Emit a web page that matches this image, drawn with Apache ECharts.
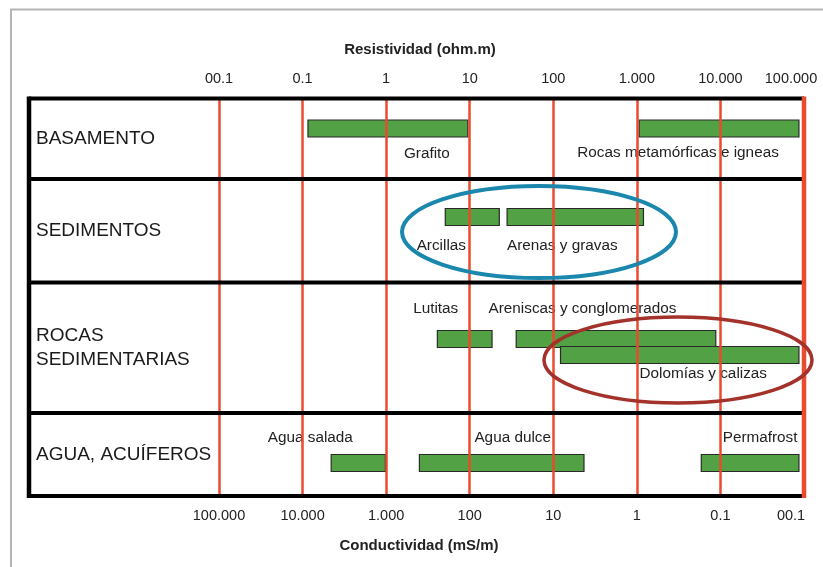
<!DOCTYPE html>
<html>
<head>
<meta charset="utf-8">
<script src="https://cdn.jsdelivr.net/npm/echarts@6/dist/echarts.min.js"></script>
<style>
  html, body { margin: 0; padding: 0; background: #ffffff; }
  #chart { width: 823px; height: 567px; }
</style>
</head>
<body>
<div id="chart"></div>
<script>
// ---- Data -------------------------------------------------------------
const rowNames = ['BASAMENTO', 'SEDIMENTOS', 'ROCAS\nSEDIMENTARIAS', 'AGUA, ACUÍFEROS'];

const materials = [
  'Grafito', 'Rocas metamórficas e igneas',
  'Arcillas', 'Arenas y gravas',
  'Lutitas', 'Areniscas y conglomerados', 'Dolomías y calizas',
  'Agua salada', 'Agua dulce', 'Permafrost'
];
const materialRow  = [0, 0, 1, 1, 2, 2, 2, 3, 3, 3];
const materialLane = [0, 0, 0, 0, 0, 0, 1, 0, 0, 0];
// resistivity range of each material (ohm.m)
const resistivityMin = [0.116, 1065, 5.1, 28, 4.1, 36, 122, 0.22, 2.5, 5900];
const resistivityMax = [9.5, 87000, 22.6, 1200, 18.5, 8800, 87000, 0.98, 233, 87000];

const resistivityTicks  = ['00.1', '0.1', '1', '10', '100', '1.000', '10.000', '100.000'];
const conductivityTicks = ['100.000', '10.000', '1.000', '100', '10', '1', '0.1', '00.1'];

// ---- Layout & style ---------------------------------------------------
const FONT = '"Liberation Sans", Arial, Helvetica, sans-serif';
const rowEdges = [98.5, 179, 282.5, 413, 496];
const plotLeft = 219, plotRight = 804, frameLeft = 29;
const laneCenter = [[30], [38], [56.5, 72.5], [50]];
const rowLabelLift = [1.5, 4, 2.5, 4.5];
const barHeight = 17;
const GREEN = '#52a145', RED = '#e94b2f';
// label placement relative to the bar centre
const labelShift = {
  'Grafito': [39, 25],
  'Rocas metamórficas e igneas': [-41, 24.5],
  'Arcillas': [-31, 28.5],
  'Arenas y gravas': [-13, 28.5],
  'Lutitas': [-29, -30],
  'Areniscas y conglomerados': [-33.5, -30],
  'Dolomías y calizas': [23.5, 18.5],
  'Agua salada': [-48, -25.5],
  'Agua dulce': [11, -25.5],
  'Permafrost': [10, -25.5]
};

const chart = echarts.init(document.getElementById('chart'), null, { renderer: 'canvas' });

const grids = [], xAxes = [], yAxes = [], series = [];
const lastRow = rowNames.length - 1;

rowNames.forEach((rowName, r) => {
  const isTop = r === 0, isBottom = r === lastRow;
  grids.push({
    left: plotLeft,
    width: plotRight - plotLeft,
    top: rowEdges[r],
    height: rowEdges[r + 1] - rowEdges[r]
  });
  const ticks = isBottom ? conductivityTicks : resistivityTicks;
  xAxes.push({
    gridIndex: r,
    type: 'log',
    logBase: 10,
    min: 0.01,
    max: 100000,
    interval: 1,
    position: isBottom ? 'bottom' : 'top',
    z: 5,
    axisLine: { show: false },
    axisTick: { show: false },
    axisLabel: {
      show: isTop || isBottom,
      margin: 12,
      color: '#222',
      fontFamily: FONT,
      fontSize: 14.5,
      formatter: (v) => {
        const k = Math.round(Math.log10(v)) + 2;
        const t = ticks[k];
        return k === ticks.length - 1 ? '{edge|' + t + '}' : t;
      },
      rich: { edge: { padding: [0, 26, 0, 0], fontSize: 14.5, fontFamily: FONT, color: '#222' } }
    },
    splitLine: { show: true, lineStyle: { color: RED, width: 2.5 } }
  });
  yAxes.push({
    gridIndex: r,
    type: 'category',
    data: [rowName],
    axisLine: { show: false },
    axisTick: { show: false },
    splitLine: { show: false },
    axisLabel: {
      align: 'left',
      margin: plotLeft - 36,
      color: '#1a1a1a',
      fontFamily: FONT,
      fontSize: 19,
      lineHeight: 23.5,
      padding: [0, 0, rowLabelLift[r] * 2, 0]
    }
  });

  const idx = materials.map((m, i) => i).filter(i => materialRow[i] === r);
  series.push({
    type: 'custom',
    xAxisIndex: r,
    yAxisIndex: r,
    z: 2,
    encode: { x: [0, 1], y: 2 },
    data: idx.map(i => ({
      name: materials[i],
      value: [resistivityMin[i], resistivityMax[i], 0, materialLane[i]]
    })),
    renderItem: (params, api) => {
      const cs = params.coordSys;
      const x0 = api.coord([api.value(0), 0])[0];
      const x1 = api.coord([api.value(1), 0])[0];
      const yc = cs.y + laneCenter[r][api.value(3)];
      const name = materials[idx[params.dataIndex]];
      const sh = labelShift[name];
      return {
        type: 'group',
        children: [
          {
            type: 'rect',
            shape: { x: x0, y: yc - barHeight / 2, width: x1 - x0, height: barHeight },
            style: { fill: GREEN, stroke: '#2a2a2a', lineWidth: 1.2 }
          },
          {
            type: 'text',
            x: (x0 + x1) / 2 + sh[0],
            y: yc + sh[1],
            style: {
              text: name,
              fill: '#222',
              font: '15.3px ' + FONT,
              align: 'center',
              verticalAlign: 'middle'
            }
          }
        ]
      };
    }
  });
});

// frame, annotations and axis titles
const frame = [];
rowEdges.forEach((y) => {
  frame.push({ type: 'line', z: 10, shape: { x1: frameLeft, y1: y, x2: plotRight, y2: y },
    style: { stroke: '#000', lineWidth: 4 } });
});
frame.push({ type: 'line', z: 10,
  shape: { x1: frameLeft, y1: rowEdges[0] - 2, x2: frameLeft, y2: rowEdges[rowEdges.length - 1] + 2 },
  style: { stroke: '#000', lineWidth: 4.5 } });
frame.push({ type: 'line', z: 11,
  shape: { x1: plotRight, y1: rowEdges[0] - 2, x2: plotRight, y2: rowEdges[rowEdges.length - 1] + 2 },
  style: { stroke: RED, lineWidth: 4.5 } });

const graphic = [
  // outer panel border
  { type: 'polyline', z: 1, shape: { points: [[11, 567], [11, 9.5], [823, 9.5]] },
    style: { stroke: '#b5b5b5', lineWidth: 2, fill: null } },
  ...frame,
  { type: 'ellipse', z: 20, shape: { cx: 539, cy: 232, rx: 137, ry: 46 },
    style: { stroke: '#1b87ad', lineWidth: 4, fill: null } },
  { type: 'ellipse', z: 20, shape: { cx: 678, cy: 360, rx: 134, ry: 43 },
    style: { stroke: '#a3322b', lineWidth: 3.5, fill: null } },
  { type: 'text', z: 20, x: 420, y: 50,
    style: { text: 'Resistividad (ohm.m)', font: 'bold 15px ' + FONT, fill: '#222',
      align: 'center', verticalAlign: 'middle' } },
  { type: 'text', z: 20, x: 419, y: 546,
    style: { text: 'Conductividad (mS/m)', font: 'bold 15px ' + FONT, fill: '#222',
      align: 'center', verticalAlign: 'middle' } }
];

chart.setOption({
  backgroundColor: '#ffffff',
  animation: false,
  grid: grids,
  xAxis: xAxes,
  yAxis: yAxes,
  series: series,
  graphic: graphic
});
</script>
</body>
</html>
